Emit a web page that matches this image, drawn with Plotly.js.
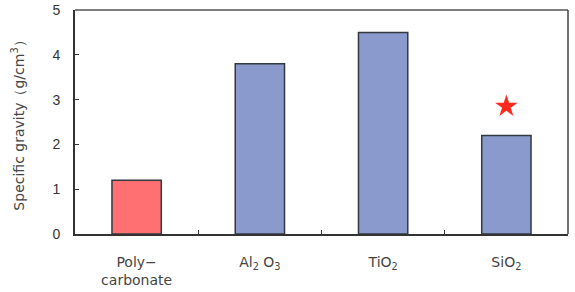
<!DOCTYPE html>
<html>
<head>
<meta charset="utf-8">
<script src="https://cdn.plot.ly/plotly-3.0.1.min.js"></script>
<style>html,body{margin:0;padding:0;background:#fff;}#chart{width:575px;height:292px;}</style>
</head>
<body>
<div id="chart"></div>
<script>
var categories = ["Poly−<br>carbonate", "Al<sub>2</sub> O<sub>3</sub>", "TiO<sub>2</sub>", "SiO<sub>2</sub>"];
var values = [1.2, 3.8, 4.5, 2.2];
var barColors = ["#ff7073", "#8b9acc", "#8b9acc", "#8b9acc"];
var starCategory = ["SiO<sub>2</sub>"];
var starValue = [2.85];
var yTicks = [0, 1, 2, 3, 4, 5];

var traces = [
  {
    type: "bar",
    x: categories,
    y: values,
    marker: {color: barColors, line: {color: "#333940", width: 1.5}},
    hoverinfo: "none",
    showlegend: false
  },
  {
    type: "scatter",
    mode: "markers",
    x: starCategory,
    y: starValue,
    marker: {symbol: "star", size: 17, color: "#ff2a1f", line: {width: 0}},
    showlegend: false
  }
];

var layout = {
  width: 575,
  height: 292,
  margin: {l: 75, r: 7, t: 10, b: 58},
  paper_bgcolor: "#fff",
  plot_bgcolor: "#fff",
  bargap: 0.6,
  font: {family: "Liberation Sans, Arial, sans-serif", color: "#333", size: 12},
  showlegend: false,
  xaxis: {
    type: "category",
    showline: true,
    linecolor: "#333",
    linewidth: 2,
    mirror: false,
    ticks: "inside",
    tickson: "boundaries",
    ticklen: 4,
    tickcolor: "#333",
    ticklabelstandoff: 14,
    tickfont: {family: "DejaVu Sans, sans-serif", size: 14, color: "#444"},
    showgrid: false,
    zeroline: false
  },
  yaxis: {
    range: [0, 5],
    tickvals: yTicks,
    showline: true,
    linecolor: "#333",
    linewidth: 2,
    mirror: false,
    ticks: "inside",
    ticklen: 4,
    tickcolor: "#333",
    ticklabelstandoff: 10,
    tickfont: {family: "Liberation Sans, Arial, sans-serif", size: 14, color: "#333"},
    showgrid: false,
    zeroline: false,
    title: {text: "Specific gravity（g/cm<sup>3</sup>）", font: {family: "DejaVu Sans, sans-serif", size: 14, color: "#444"}, standoff: 25}
  },
  shapes: [
    {type: "line", xref: "paper", yref: "paper", x0: 0, x1: 1, y0: 1, y1: 1, line: {color: "#555", width: 1.5}},
    {type: "line", xref: "paper", yref: "paper", x0: 1, x1: 1, y0: 0, y1: 1, line: {color: "#444", width: 1.5}}
  ]
};

Plotly.newPlot("chart", traces, layout, {displayModeBar: false, staticPlot: true});
</script>
</body>
</html>
